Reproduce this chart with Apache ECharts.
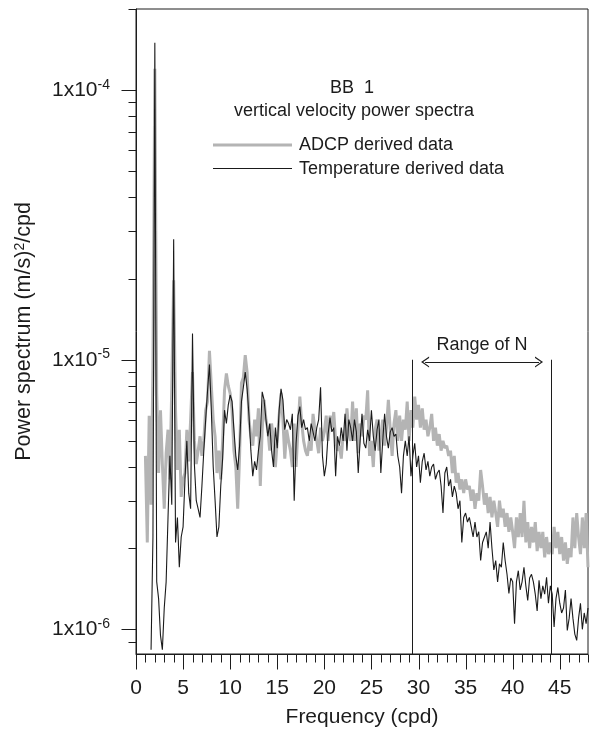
<!DOCTYPE html>
<html><head><meta charset="utf-8">
<script src="https://cdn.jsdelivr.net/npm/echarts@6/dist/echarts.min.js"></script>
<style>html,body{margin:0;padding:0;background:#fff}#c{width:594px;height:735px}</style>
</head><body><div id="c"></div>
<script>
// Frequency grid (cpd): regular sampling
const F_START = 1.0, F_STEP = 0.2;
// ADCP derived spectrum, units of 1e-6 (m/s)^2/cpd
const adcp = [
  4.4, 2.1, 6.2, 2.9, 9.5, 120, 7.5, 3.8, 6.5, 4.1,
  2.8, 4.5, 5.5, 3.6, 8.0, 19.7, 6.5, 3.9, 5.5, 3.1,
  3.6, 3.8, 5.5, 4.2, 6.0, 9.0, 5.0, 4.1, 4.6, 5.2,
  4.4, 5.0, 6.5, 7.0, 10.8, 8.0, 6.0, 5.2, 3.8, 4.6,
  3.6, 5.0, 7.7, 8.9, 8.0, 7.5, 6.5, 4.6, 4.0, 2.8,
  4.4, 8.2, 8.6, 10.4, 9.0, 6.0, 5.2, 4.8, 6.0, 5.2,
  6.6, 3.4, 5.5, 7.1, 6.0, 5.5, 4.6, 5.8, 5.0, 4.0,
  5.0, 6.2, 7.5, 6.0, 4.3, 5.5, 5.0, 4.6, 4.0, 5.8,
  4.0, 5.5, 7.3, 5.8, 5.0, 4.6, 4.4, 5.0, 4.6, 6.3,
  5.5, 5.0, 4.5, 5.6, 5.0, 5.4, 6.2, 5.0, 6.2, 5.6,
  6.4, 5.0, 4.6, 4.8, 4.3, 5.3, 5.0, 6.6, 5.4, 5.0,
  7.0, 5.0, 6.6, 4.5, 5.8, 5.2, 6.2, 6.0, 7.7, 4.4,
  5.0, 4.0, 5.5, 6.0, 4.6, 5.2, 6.0, 4.8, 5.6, 7.1,
  5.5, 4.4, 5.8, 6.5, 5.0, 6.2, 5.0, 6.0, 5.5, 7.0,
  5.0, 6.5, 5.6, 7.3, 6.0, 6.8, 5.6, 6.6, 5.5, 6.0,
  5.2, 5.6, 6.3, 5.0, 5.6, 4.8, 5.3, 4.6, 5.0, 4.7,
  4.8, 4.4, 4.6, 3.8, 4.4, 3.5, 3.8, 3.3, 3.6, 3.2,
  3.6, 3.3, 3.4, 3.0, 3.3, 2.8, 3.2, 3.0, 3.9, 3.4,
  2.9, 3.2, 2.7, 3.1, 2.6, 3.0, 2.7, 2.4, 3.0, 2.6,
  2.8, 2.4, 2.7, 2.3, 2.6, 2.3, 2.0, 2.6, 2.2, 2.7,
  2.2, 3.0, 2.1, 2.5, 2.0, 2.4, 2.1, 2.5, 1.95, 2.3,
  2.0, 2.3, 1.85, 2.2, 1.9, 2.1, 1.9, 2.4, 2.0, 2.3,
  1.9, 2.2, 1.8, 2.1, 1.75, 2.0, 1.85, 2.6, 2.0, 2.7,
  2.2, 1.9, 2.6, 2.0, 2.7, 1.7
];
// Temperature derived spectrum, units of 1e-6 (m/s)^2/cpd
const temp = [
  null, null, null, 0.84, 2.2, 150, 1.5, 1.3, 0.95, 0.84,
  1.2, 1.5, 2.6, 4.4, 2.9, 28, 2.1, 2.6, 1.7, 2.2,
  2.4, 3.6, 5.0, 3.2, 2.8, 12.5, 4.1, 3.0, 2.8, 2.6,
  3.4, 4.6, 6.0, 7.7, 9.6, 6.5, 4.0, 3.0, 2.2, 2.4,
  3.4, 4.3, 6.5, 5.8, 6.8, 7.4, 7.0, 5.5, 4.4, 3.9,
  4.8, 7.0, 7.9, 9.0, 7.8, 6.2, 4.6, 3.7, 4.2, 3.9,
  4.6, 5.2, 7.6, 7.1, 6.0, 5.2, 5.8, 4.6, 4.0, 5.6,
  4.7, 6.5, 7.8, 7.1, 5.5, 6.0, 5.8, 5.5, 6.3, 3.0,
  4.9, 6.2, 6.7, 5.6, 6.0, 5.5, 5.6, 5.0, 5.8, 5.4,
  5.0, 5.6, 6.0, 7.9, 4.4, 3.7, 4.1, 5.3, 6.1, 5.4,
  5.6, 3.7, 5.2, 4.8, 5.6, 5.0, 6.3, 4.6, 6.0, 5.6,
  5.0, 6.0, 5.4, 3.8, 5.0, 6.3, 4.9, 4.7, 5.5, 5.0,
  6.5, 5.2, 4.6, 5.5, 6.0, 3.8, 5.0, 6.3, 5.2, 4.7,
  5.4, 5.6, 5.2, 5.3, 4.4, 4.0, 3.2, 4.4, 5.0, 4.4,
  5.2, 3.7, 4.4, 4.9, 4.0, 4.4, 3.5, 4.2, 4.5, 3.9,
  4.2, 3.7, 4.0, 4.1, 3.6, 3.8, 3.9, 3.4, 2.7, 3.8,
  4.0, 3.4, 3.6, 3.1, 3.4, 3.2, 2.8, 3.0, 2.1, 2.6,
  2.7, 2.5, 2.6, 2.4, 2.2, 2.5, 2.2, 2.3, 1.8, 2.1,
  2.1, 2.3, 2.0, 2.5, 2.0, 1.66, 1.8, 1.5, 1.75, 1.7,
  2.1, 1.8, 1.6, 1.36, 1.55, 1.5, 1.05, 1.5, 1.65, 1.4,
  1.5, 1.7, 1.45, 1.28, 1.55, 1.6, 1.5, 1.35, 1.17, 1.52,
  1.3, 1.45, 1.35, 1.56, 1.25, 1.45, 1.35, 1.02, 1.3, 1.43,
  1.25, 1.15, 1.2, 1.4, 0.99, 1.1, 1.3, 1.1, 0.96, 0.91,
  1.1, 1.25, 1.0, 1.15, 1.05, 1.2
];
const UNIT = 1e-6;
// Axis ranges / ticks
const X_MIN = 0, X_MAX = 48, X_INTERVAL = 5;
const Y_MIN = 8.1e-7, Y_MAX = 2.0e-4;
const yDecades = [1e-6, 1e-5, 1e-4];
const yMinorMultipliers = [2, 3, 4, 5, 6, 7, 8, 9];
// Range of N annotation (cpd) and arrow
const rangeN = [29.33, 44.1];
const rangeNTop = 1e-5;
const arrowX = [30.7, 42.8];
const arrowY = 9.8e-6;
const seriesNames = ['ADCP derived data', 'Temperature derived data'];
const titleLines = ['BB  1', 'vertical velocity power spectra'];

const FONT = '"Liberation Sans", Arial, Helvetica, sans-serif';
const INK = '#1c1c1c';
const GREY = '#b4b4b4';
const BLACK = '#1a1a1a';

const freqs = adcp.map((_, i) => +(F_START + F_STEP * i).toFixed(2));
const toData = arr => arr.map((v, i) => [freqs[i], v == null ? '-' : v * UNIT]);

// tick marks
const yTicks = [];
yDecades.forEach(d => yTicks.push([0, d, 15]));
[1e-7, 1e-6, 1e-5, 1e-4].forEach(d => yMinorMultipliers.forEach(m => {
  const v = d * m;
  if (v >= Y_MIN * 0.999 && v <= Y_MAX * 1.001) yTicks.push([0, v, 8]);
}));
const xTicks = [];
for (let f = X_MIN; f <= X_MAX; f++) xTicks.push([f, Y_MIN, f % X_INTERVAL === 0 ? 15 : 8]);

const chart = echarts.init(document.getElementById('c'), null, {renderer: 'canvas'});
const lineEl = (x1, y1, x2, y2) => ({type: 'line', shape: {x1, y1, x2, y2}, style: {stroke: INK, lineWidth: 1}});
const txt = (x, y, text, align) => ({type: 'text', x, y, silent: true,
  style: {text, font: '18px ' + FONT, fill: INK, textAlign: align, textVerticalAlign: 'middle'}});

chart.setOption({
  animation: false,
  backgroundColor: '#fff',
  textStyle: {fontFamily: FONT, color: INK},
  grid: {left: 136, right: 6, top: 9, bottom: 81, show: true, borderColor: INK, borderWidth: 1, backgroundColor: 'transparent'},
  graphic: [
    txt(352, 88, titleLines[0], 'center'),
    txt(354, 111, titleLines[1], 'center'),
    {type: 'line', silent: true, shape: {x1: 213, y1: 145, x2: 292, y2: 145}, style: {stroke: GREY, lineWidth: 3}},
    {type: 'line', silent: true, shape: {x1: 213, y1: 168.5, x2: 292, y2: 168.5}, style: {stroke: BLACK, lineWidth: 1.1}},
    txt(299, 145, seriesNames[0], 'left'),
    txt(299, 169, seriesNames[1], 'left')
  ],
  xAxis: {
    type: 'value', min: X_MIN, max: X_MAX, interval: X_INTERVAL,
    axisLine: {lineStyle: {color: INK, width: 1}}, axisTick: {show: false}, splitLine: {show: false},
    axisLabel: {fontSize: 21, color: INK, fontFamily: FONT, margin: 24, formatter: v => (v % X_INTERVAL === 0 ? String(v) : '')},
    name: 'Frequency (cpd)', nameLocation: 'middle', nameGap: 53,
    nameTextStyle: {fontSize: 21, color: INK, fontFamily: FONT}
  },
  yAxis: {
    type: 'log', logBase: 10, min: Y_MIN, max: Y_MAX,
    axisLine: {show: true, lineStyle: {color: INK, width: 1}}, axisTick: {show: false}, splitLine: {show: false}, minorTick: {show: false},
    axisLabel: {
      margin: 26, color: INK, fontFamily: FONT,
      formatter: v => { const e = Math.log10(v); const r = Math.round(e); return Math.abs(e - r) < 1e-6 ? '{b|1x10}{s|' + r + '}' : ''; },
      rich: {b: {fontSize: 21, lineHeight: 25, fontFamily: FONT, color: INK}, s: {fontSize: 14, lineHeight: 14, verticalAlign: 'top', fontFamily: FONT, color: INK}}
    },
    name: 'Power spectrum (m/s){sup|2}/cpd', nameLocation: 'middle', nameGap: 101, nameRotate: 90,
    nameTextStyle: {fontSize: 21.5, color: INK, fontFamily: FONT,
      rich: {sup: {fontSize: 14, lineHeight: 14, verticalAlign: 'top', fontFamily: FONT, color: INK}}}
  },
  series: [
    {
      name: seriesNames[0], type: 'line', data: toData(adcp), showSymbol: false, symbol: 'none',
      lineStyle: {color: GREY, width: 3}, itemStyle: {color: GREY}, z: 2, silent: true
    },
    {
      name: seriesNames[1], type: 'line', data: toData(temp), showSymbol: false, symbol: 'none', connectNulls: false,
      lineStyle: {color: BLACK, width: 1.1}, itemStyle: {color: BLACK}, z: 3, silent: true,
      markLine: {
        silent: true, animation: false,
        lineStyle: {color: INK, width: 1, type: 'solid'},
        emphasis: {disabled: true},
        data: [
          [{coord: [rangeN[0], rangeNTop], symbol: 'none', label: {show: false}}, {coord: [rangeN[0], Y_MIN], symbol: 'none'}],
          [{coord: [rangeN[1], rangeNTop], symbol: 'none', label: {show: false}}, {coord: [rangeN[1], Y_MIN], symbol: 'none'}],
          [{coord: [arrowX[0], arrowY],
            symbol: 'path://M0,10 L5,0 L10,10 L8.8,10 L5,2.6 L1.2,10 Z', symbolSize: [11, 8],
            label: {show: true, formatter: 'Range of N', position: 'insideMiddleTop', distance: 8, fontSize: 18, color: INK, fontFamily: FONT}},
           {coord: [arrowX[1], arrowY], symbol: 'path://M0,10 L5,0 L10,10 L8.8,10 L5,2.6 L1.2,10 Z', symbolSize: [11, 8]}]
        ]
      }
    },
    {
      type: 'custom', coordinateSystem: 'cartesian2d', data: yTicks, clip: false, silent: true, z: 5,
      encode: {x: 0, y: 1},
      renderItem: (params, api) => {
        const p = api.coord([api.value(0), api.value(1)]);
        const y = Math.round(p[1]) + 0.5, x = Math.round(p[0]) + 0.5;
        return lineEl(x - api.value(2), y, x, y);
      }
    },
    {
      type: 'custom', coordinateSystem: 'cartesian2d', data: xTicks, clip: false, silent: true, z: 5,
      encode: {x: 0, y: 1},
      renderItem: (params, api) => {
        const p = api.coord([api.value(0), api.value(1)]);
        const y = Math.round(p[1]) + 0.5, x = Math.round(p[0]) + 0.5;
        return lineEl(x, y, x, y + api.value(2));
      }
    }
  ]
});
</script></body></html>
